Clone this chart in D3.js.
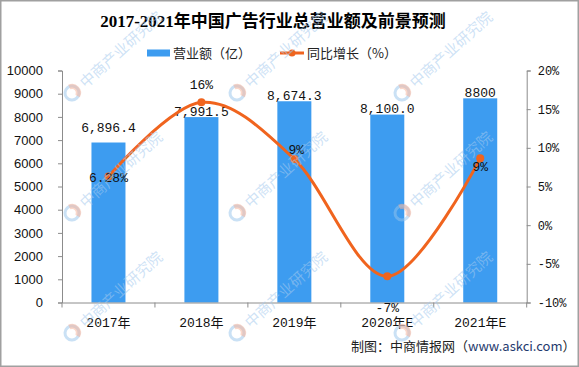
<!DOCTYPE html>
<html>
<head>
<meta charset="utf-8">
<script src="https://cdn.jsdelivr.net/npm/d3@7"></script>
<style>
  body { margin: 0; background: #fff; }
  svg { display: block; }
</style>
</head>
<body>
<div id="chart"></div>
<script>
// data
const years = ["2017年", "2018年", "2019年", "2020年E", "2021年E"];
const revenue = [6896.4, 7991.5, 8674.3, 8100.0, 8800];
const revenueLabels = ["6,896.4", "7,991.5", "8,674.3", "8,100.0", "8800"];
const growth = [6.28, 15.88, 8.54, -6.62, 8.64];
const growthLabels = ["6.28%", "16%", "9%", "-7%", "9%"];
const leftTicks = [0, 1000, 2000, 3000, 4000, 5000, 6000, 7000, 8000, 9000, 10000];
const rightTicks = [-10, -5, 0, 5, 10, 15, 20];

// layout tweaks for label placement (pixels)
const revenueLabelNudge = [-9, 0, 0, 0, 0];
const growthLabelDy = [5, -13, -5, 36, 13];
const growthLabelDx = [0, 0, 2, 0, 0];

const colors = { bar: "#3d9cf0", line: "#f0641e", axis: "#8c8c8c", text: "#111" };
const W = 579, H = 367;
const monoFont = "'Liberation Mono', 'DejaVu Sans Mono', monospace";
const cjkFont = "'Liberation Mono', 'Noto Sans CJK SC', sans-serif";

const svg = d3.select("#chart").append("svg")
    .attr("width", W)
    .attr("height", H);

svg.append("rect")
    .attr("width", W).attr("height", H)
    .attr("fill", "#fff");

const plot = { left: 62, right: 526.7, top: 70.5, bottom: 302.5 };

const x = d3.scaleBand()
    .domain(years)
    .range([plot.left, plot.right])
    .padding(0);

const yL = d3.scaleLinear().domain([0, 10000]).range([plot.bottom, plot.top]);
const yR = d3.scaleLinear().domain([-10, 20]).range([plot.bottom, plot.top]);

const barWidth = 34;

// bars
svg.selectAll("rect.bar")
    .data(revenue)
    .join("rect")
    .attr("class", "bar")
    .attr("x", (d, i) => x(years[i]) + x.bandwidth() / 2 - barWidth / 2)
    .attr("y", d => yL(d))
    .attr("width", barWidth)
    .attr("height", d => yL(0) - yL(d))
    .attr("fill", colors.bar);

// left axis
const leftAxis = svg.append("g")
    .attr("transform", `translate(${plot.left},0)`)
    .call(d3.axisLeft(yL).tickValues(leftTicks).tickSize(4).tickPadding(15).tickFormat(d3.format("d")));
leftAxis.select(".domain").attr("stroke", colors.axis);
leftAxis.selectAll(".tick line").attr("stroke", colors.axis);
leftAxis.selectAll("text")
    .attr("font-family", "'Liberation Sans', Arial, sans-serif")
    .attr("font-size", "13px")
    .attr("fill", colors.text);

// right axis
const rightAxis = svg.append("g")
    .attr("transform", `translate(${plot.right},0)`)
    .call(d3.axisRight(yR).tickValues(rightTicks).tickSize(4).tickPadding(7).tickFormat(d => d + "%"));
rightAxis.select(".domain").attr("stroke", colors.axis);
rightAxis.selectAll(".tick line").attr("stroke", colors.axis);
rightAxis.selectAll("text")
    .attr("font-family", monoFont)
    .attr("font-size", "12px")
    .attr("fill", colors.text);

// x axis
const xAxis = svg.append("g")
    .attr("transform", `translate(0,${plot.bottom})`)
    .call(d3.axisBottom(x).tickSize(0).tickPadding(15));
xAxis.select(".domain").attr("stroke", colors.axis);
xAxis.selectAll("text")
    .attr("font-family", cjkFont)
    .attr("font-size", "13px")
    .attr("fill", colors.text);
// category boundary ticks
xAxis.selectAll("line.sep")
    .data(d3.range(years.length + 1))
    .join("line")
    .attr("class", "sep")
    .attr("x1", i => plot.left + i * x.bandwidth())
    .attr("x2", i => plot.left + i * x.bandwidth())
    .attr("y1", 0).attr("y2", 5)
    .attr("stroke", colors.axis);

// revenue labels
svg.selectAll("text.rev")
    .data(revenueLabels)
    .join("text")
    .attr("class", "rev")
    .attr("x", (d, i) => x(years[i]) + x.bandwidth() / 2)
    .attr("y", (d, i) => yL(revenue[i]) - 1.5 + revenueLabelNudge[i])
    .attr("text-anchor", "middle")
    .attr("font-family", monoFont)
    .attr("font-size", "13px")
    .attr("fill", colors.text)
    .text(d => d);

// growth line
const cx = (d, i) => x(years[i]) + x.bandwidth() / 2;
const line = d3.line()
    .x(cx)
    .y(d => yR(d))
    .curve(d3.curveCatmullRom.alpha(0));

svg.append("path")
    .datum(growth)
    .attr("d", line)
    .attr("fill", "none")
    .attr("stroke", colors.line)
    .attr("stroke-width", 3);

svg.selectAll("circle.pt")
    .data(growth)
    .join("circle")
    .attr("class", "pt")
    .attr("cx", cx)
    .attr("cy", d => yR(d))
    .attr("r", 4)
    .attr("fill", colors.line);

svg.selectAll("text.gr")
    .data(growthLabels)
    .join("text")
    .attr("class", "gr")
    .attr("x", (d, i) => cx(growth[i], i) + growthLabelDx[i])
    .attr("y", (d, i) => yR(growth[i]) + growthLabelDy[i])
    .attr("text-anchor", "middle")
    .attr("font-family", monoFont)
    .attr("font-size", "13px")
    .attr("fill", colors.text)
    .text(d => d);

// title
svg.append("text")
    .attr("x", 273)
    .attr("y", 27)
    .attr("text-anchor", "middle")
    .attr("font-family", "'Liberation Serif', 'Noto Sans CJK SC', serif")
    .attr("font-size", "17px")
    .attr("font-weight", "bold")
    .attr("fill", "#000")
    .text("2017-2021年中国广告行业总营业额及前景预测");

// legend
const legend = svg.append("g").attr("font-family", "'Noto Sans CJK SC', sans-serif").attr("font-size", "13px");
legend.append("rect")
    .attr("x", 147).attr("y", 49.5).attr("width", 23).attr("height", 7)
    .attr("fill", colors.bar);
legend.append("text")
    .attr("x", 173).attr("y", 58)
    .attr("fill", "#222")
    .text("营业额（亿）");
legend.append("line")
    .attr("x1", 280).attr("x2", 304).attr("y1", 53).attr("y2", 53)
    .attr("stroke", colors.line).attr("stroke-width", 3);
legend.append("circle")
    .attr("cx", 292).attr("cy", 53).attr("r", 3.5)
    .attr("fill", colors.line);
legend.append("text")
    .attr("x", 307).attr("y", 58)
    .attr("fill", "#222")
    .text("同比增长（%）");

// source note
const src = svg.append("text")
    .attr("x", 351).attr("y", 351)
    .attr("font-family", "'Noto Sans CJK SC', sans-serif")
    .attr("font-size", "13px")
    .attr("fill", "#222");
src.append("tspan").text("制图：中商情报网（");
src.append("tspan").attr("fill", "#1f3a6e").text("www.askci.com");
src.append("tspan").text("）");

// watermark
const wmX = [72, 237, 402];
const wmY = [93, 213, 333];
const wm = svg.append("g").attr("pointer-events", "none");
wmY.forEach(wy => {
    wmX.forEach(wx => {
        const g = wm.append("g").attr("transform", `translate(${wx},${wy}) rotate(-42)`);
        g.append("circle").attr("r", 7).attr("fill", "none")
            .attr("stroke", "rgba(150,195,235,0.5)").attr("stroke-width", 3);
        g.append("path")
            .attr("d", d3.arc()({ innerRadius: 4, outerRadius: 9, startAngle: 0.3, endAngle: 2.8 }))
            .attr("fill", "rgba(245,175,150,0.5)");
        g.append("text")
            .attr("x", 13).attr("y", 6)
            .attr("font-family", "'Noto Sans CJK SC', sans-serif")
            .attr("font-size", "15px")
            .attr("fill", "rgba(165,202,238,0.55)")
            .text("中商产业研究院");
    });
});

// outer border
svg.append("rect")
    .attr("x", 0.75).attr("y", 0.75)
    .attr("width", W - 1.5).attr("height", H - 1.5)
    .attr("fill", "none")
    .attr("stroke", "#a0a0a0")
    .attr("stroke-width", 1.5);
</script>
</body>
</html>
